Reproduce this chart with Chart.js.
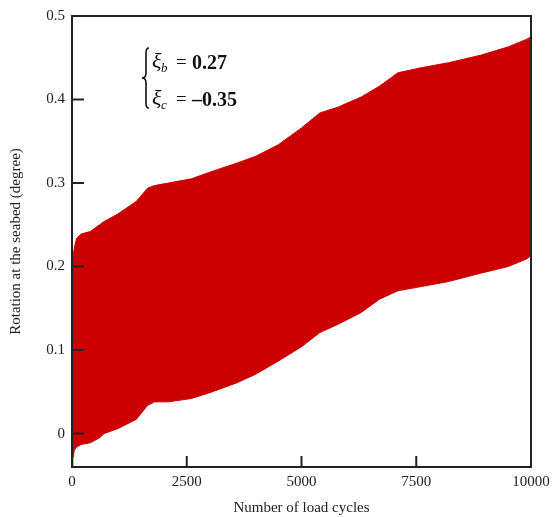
<!DOCTYPE html>
<html>
<head>
<meta charset="utf-8">
<script src="https://cdn.jsdelivr.net/npm/chart.js@4.4.1/dist/chart.umd.min.js"></script>
<style>
  body { margin: 0; background: #fff; }
  #rotation_graph { display: block; }
</style>
</head>
<body>
<canvas id="rotation_graph" width="552" height="517"></canvas>
<script>
// envelopes of the rotation signal
var cycles = [0, 20, 50, 100, 200, 400, 600, 700, 1000, 1400, 1650, 1800, 2100, 2600, 3000, 3600, 4000, 4500, 5000, 5400, 5800, 6300, 6700, 7100, 7600, 8200, 8900, 9500, 9900, 10000];
var upperRotation = [0.19, 0.21, 0.222, 0.234, 0.239, 0.242, 0.25, 0.254, 0.263, 0.278, 0.294, 0.297, 0.3, 0.305, 0.313, 0.324, 0.332, 0.346, 0.366, 0.384, 0.391, 0.403, 0.416, 0.432, 0.438, 0.444, 0.453, 0.463, 0.472, 0.475];
var lowerRotation = [-0.04, -0.03, -0.02, -0.016, -0.013, -0.011, -0.005, 0.0, 0.006, 0.017, 0.034, 0.038, 0.038, 0.042, 0.049, 0.061, 0.071, 0.087, 0.104, 0.121, 0.131, 0.145, 0.161, 0.171, 0.176, 0.182, 0.192, 0.2, 0.209, 0.213];

var xTicks = [0, 2500, 5000, 7500, 10000];
var yTicks = [0, 0.1, 0.2, 0.3, 0.4, 0.5];

var serif = "'Liberation Serif', 'Times New Roman', serif";
var bandColor = "#cc0000";
var axisColor = "#222";

function toPoints(xs, ys) {
  var points = [];
  for (var i = 0; i < xs.length; i++) {
    points.push({ x: xs[i], y: ys[i] });
  }
  return points;
}

function setTicks(values) {
  return function(scale) {
    scale.ticks = values.map(function(v) { return { value: v }; });
  };
}

// frame round the plot and the inward tick marks
var framePlugin = {
  id: "frame",
  afterDraw: function(chart) {
    var ctx = chart.ctx;
    var a = chart.chartArea;
    var xs = chart.scales.x;
    var ys = chart.scales.y;

    ctx.save();
    ctx.strokeStyle = axisColor;
    ctx.lineWidth = 2;
    ctx.strokeRect(a.left, a.top, a.right - a.left, a.bottom - a.top);

    ctx.beginPath();
    xTicks.forEach(function(v) {
      var px = xs.getPixelForValue(v);
      ctx.moveTo(px, a.bottom);
      ctx.lineTo(px, a.bottom - 11);
    });
    yTicks.forEach(function(v) {
      var py = ys.getPixelForValue(v);
      ctx.moveTo(a.left, py);
      ctx.lineTo(a.left + 12, py);
    });
    ctx.stroke();
    ctx.restore();
  }
};

// brace with the two xi values
var notePlugin = {
  id: "note",
  afterDraw: function(chart) {
    var ctx = chart.ctx;
    var a = chart.chartArea;
    var x0 = a.left + 74;
    var top = a.top + 32;
    var bottom = a.top + 92;
    var mid = (top + bottom) / 2;

    ctx.save();
    ctx.strokeStyle = "#111";
    ctx.lineWidth = 1.6;
    ctx.beginPath();
    ctx.moveTo(x0 + 3, top);
    ctx.quadraticCurveTo(x0, top, x0, top + 5);
    ctx.lineTo(x0, mid - 5);
    ctx.quadraticCurveTo(x0, mid, x0 - 4, mid);
    ctx.quadraticCurveTo(x0, mid, x0, mid + 5);
    ctx.lineTo(x0, bottom - 5);
    ctx.quadraticCurveTo(x0, bottom, x0 + 3, bottom);
    ctx.stroke();

    ctx.fillStyle = "#111";
    ctx.textBaseline = "alphabetic";

    var rows = [
      { sub: "b", value: "0.27", y: a.top + 52 },
      { sub: "c", value: "\u20130.35", y: a.top + 89 }
    ];
    rows.forEach(function(r) {
      ctx.font = "italic 22px " + serif;
      ctx.fillText("\u03be", x0 + 6, r.y);
      ctx.font = "italic 13px " + serif;
      ctx.fillText(r.sub, x0 + 15, r.y + 4);
      ctx.font = "19px " + serif;
      ctx.fillText("=", x0 + 30, r.y);
      ctx.font = "bold 20px " + serif;
      ctx.fillText(r.value, x0 + 46, r.y + 1);
    });
    ctx.restore();
  }
};

function printRotationGraph() {
  var ctx = document.getElementById("rotation_graph").getContext("2d");

  var rotationGraph = new Chart(ctx, {
    type: "line",
    data: {
      datasets: [{
        label: "upper",
        data: toPoints(cycles, upperRotation),
        borderColor: bandColor,
        backgroundColor: bandColor,
        borderWidth: 1,
        pointRadius: 0,
        fill: "+1"
      }, {
        label: "lower",
        data: toPoints(cycles, lowerRotation),
        borderColor: bandColor,
        backgroundColor: bandColor,
        borderWidth: 1,
        pointRadius: 0,
        fill: false
      }]
    },
    options: {
      responsive: false,
      animation: false,
      layout: { padding: { top: 16, right: 21, left: 0, bottom: 0 } },
      plugins: {
        legend: { display: false },
        tooltip: { enabled: false }
      },
      scales: {
        x: {
          type: "linear",
          min: 0,
          max: 10000,
          afterBuildTicks: setTicks(xTicks),
          afterFit: function(scale) {
            scale.height = 50;
            scale.paddingLeft = 0;
            scale.paddingRight = 0;
          },
          grid: { drawOnChartArea: false, drawTicks: false },
          border: { display: false },
          ticks: {
            color: axisColor,
            padding: 6,
            maxRotation: 0,
            font: { family: serif, size: 15 },
            callback: function(v) { return String(v); }
          },
          title: {
            display: true,
            text: "Number of load cycles",
            color: axisColor,
            padding: { top: 0, bottom: 0 },
            font: { family: serif, size: 15 }
          }
        },
        y: {
          type: "linear",
          min: -0.04,
          max: 0.5,
          afterBuildTicks: setTicks(yTicks),
          afterFit: function(scale) {
            scale.width = 72;
            scale.paddingTop = 0;
            scale.paddingBottom = 0;
          },
          grid: { drawOnChartArea: false, drawTicks: false },
          border: { display: false },
          ticks: {
            color: axisColor,
            padding: 7,
            font: { family: serif, size: 15 },
            callback: function(v) { return String(Math.round(v * 10) / 10); }
          },
          title: {
            display: true,
            text: "Rotation at the seabed (degree)",
            color: axisColor,
            padding: { top: 7, bottom: 0 },
            font: { family: serif, size: 15 }
          }
        }
      }
    },
    plugins: [framePlugin, notePlugin]
  });
}

printRotationGraph();
</script>
</body>
</html>
